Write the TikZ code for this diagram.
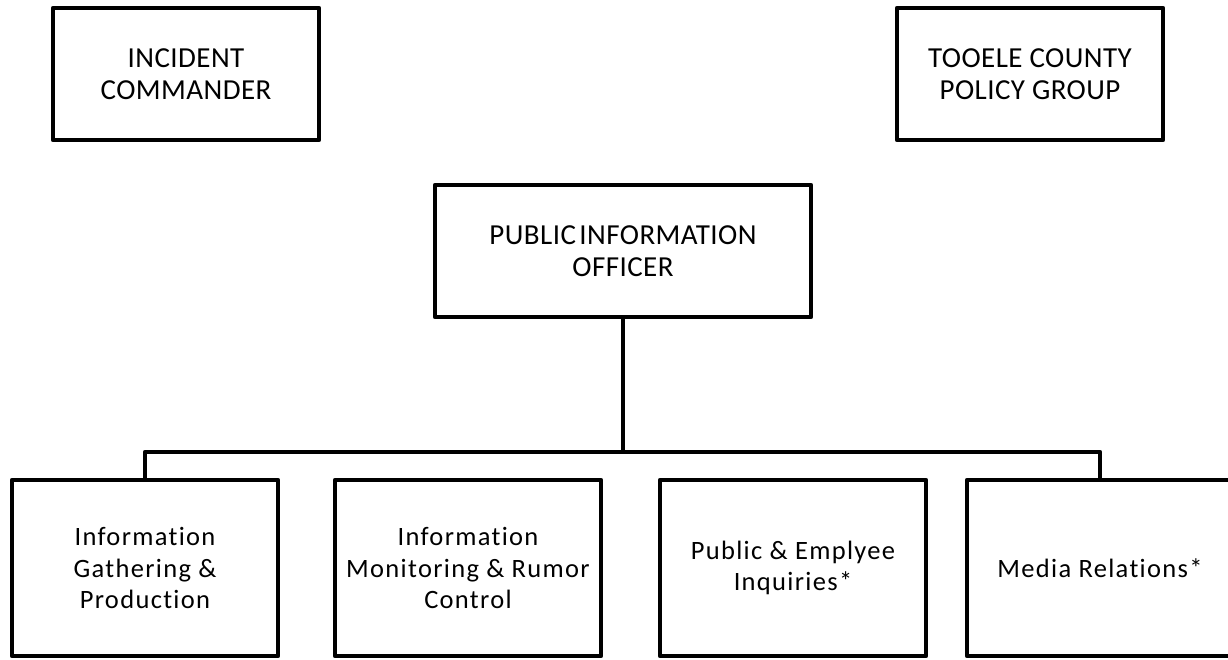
\documentclass[tikz,border=0pt]{standalone}
\usepackage{fontspec}
\setmainfont{Carlito}
\newfontfamily\topfont{Carlito}[LetterSpace=1.5,Ligatures=NoCommon]
\newfontfamily\subfont{Carlito}[LetterSpace=5,Ligatures=NoCommon]
\begin{document}
\begin{tikzpicture}[x=1pt,y=-1pt,
  box/.style={draw=black,line width=4.2pt,line join=round,rectangle,align=center,inner sep=0pt},
  topbox/.style={box,minimum width=266pt,minimum height=132pt,font=\topfont\fontsize{29}{32}\selectfont},
  pibox/.style={box,minimum width=376pt,minimum height=132pt,font=\topfont\fontsize{29}{32}\selectfont},
  subbox/.style={box,minimum width=266pt,minimum height=176pt,font=\subfont\fontsize{26.5}{31.5}\selectfont},
  conn/.style={draw=black,line width=4.2pt}]
\useasboundingbox (0,0) rectangle (1228,659);
\node[topbox] (ic) at (186,74) {INCIDENT\\COMMANDER};
\node[topbox] (tc) at (1030,74) {TOOELE COUNTY\\POLICY GROUP};
\node[pibox] (pio) at (623,251) {PUBLIC\hspace{0.12em}INFORMATION\\OFFICER};
\node[subbox] (b1) at (145,568) {Information\\Gathering \&\\Production};
\node[subbox] (b2) at (468,568) {Information\\Monitoring \& Rumor\\Control};
\node[subbox] (b3) at (793,568) {Public \& Emplyee\\Inquiries*};
\node[subbox] (b4) at (1100,568) {Media Relations*};
\coordinate (bar) at (623,452);
\draw[conn] (pio.south) -- (bar);
\draw[conn,line join=round] (b1.north) |- (bar) -| (b4.north);
\end{tikzpicture}
\end{document}
